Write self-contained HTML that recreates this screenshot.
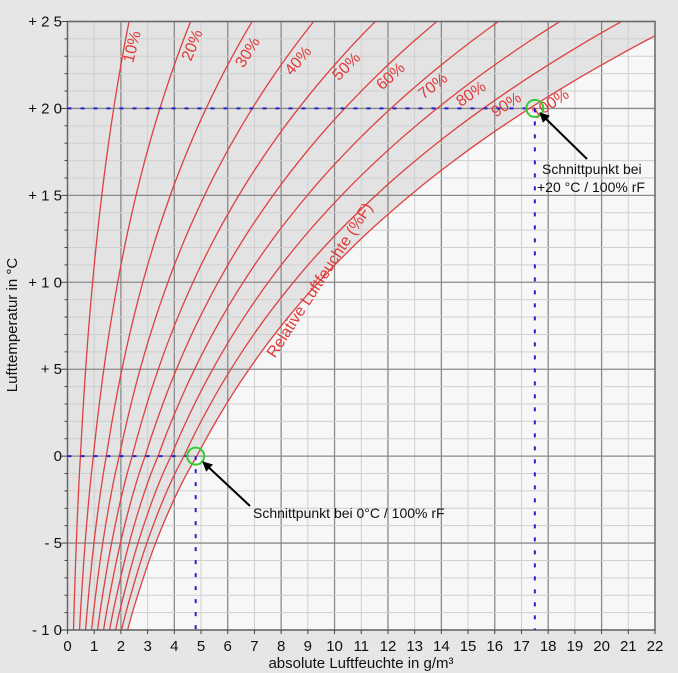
<!DOCTYPE html>
<html><head><meta charset="utf-8"><style>
body{margin:0;background:#e6e6e6;}
svg{display:block;font-family:"Liberation Sans",sans-serif;}
</style></head><body>
<svg id="c" width="678" height="673">
<rect width="678" height="673" fill="#e6e6e6"/>
</svg>
<script>
const temps=[-10,-9,-8,-7,-6,-5,-4,-3,-2,-1,0,1,2,3,4,5,6,7,8,9,10,11,12,13,14,15,16,17,18,19,20,21,22,23,24,25];
const satValues=[2.25,2.43,2.63,2.84,3.06,3.30,3.56,3.84,4.14,4.47,4.84,5.19,5.56,5.95,6.36,6.80,7.26,7.75,8.27,8.82,9.40,10.01,10.66,11.34,12.07,12.83,13.63,14.48,15.37,16.31,17.30,18.34,19.43,20.58,21.78,23.05];
const rhLevels=[10,20,30,40,50,60,70,80,90,100];
const xTicks=[0,1,2,3,4,5,6,7,8,9,10,11,12,13,14,15,16,17,18,19,20,21,22];
const yTicks=[-10,-5,0,5,10,15,20,25];
const yTickLabels=["- 1 0","- 5","0","+ 5","+ 1 0","+ 1 5","+ 2 0","+ 2 5"];
const markers=[{x:4.8,t:0},{x:17.5,t:20}];

const NS="http://www.w3.org/2000/svg";
const svg=document.getElementById('c');
const X0=67.5,X1=655,Y0=630,Y1=21.5;
const sx=v=>X0+(X1-X0)*v/22;
const sy=t=>Y0-(Y0-Y1)*(t+10)/35;
function el(tag,attrs,parent){const e=document.createElementNS(NS,tag);for(const k in attrs)e.setAttribute(k,attrs[k]);(parent||svg).appendChild(e);return e;}
function smooth(pts){let d='M'+pts[0][0]+','+pts[0][1];
 for(let i=0;i<pts.length-1;i++){const p0=pts[Math.max(0,i-1)],p1=pts[i],p2=pts[i+1],p3=pts[Math.min(pts.length-1,i+2)];
  d+=' C'+(p1[0]+(p2[0]-p0[0])/6)+','+(p1[1]+(p2[1]-p0[1])/6)+' '+(p2[0]-(p3[0]-p1[0])/6)+','+(p2[1]-(p3[1]-p1[1])/6)+' '+p2[0]+','+p2[1];}
 return d;}

const defs=el('defs',{});
const cp=el('clipPath',{id:'pc'},defs);
el('rect',{x:X0,y:Y1,width:X1-X0,height:Y0-Y1},cp);
const mk=el('marker',{id:'ah',markerWidth:10,markerHeight:10,refX:9,refY:5,orient:'auto',markerUnits:'userSpaceOnUse'},defs);
el('path',{d:'M0,0 L10,5 L0,10 z',fill:'#000'},mk);

const plotBg=el('rect',{x:X0,y:Y1,width:X1-X0,height:Y0-Y1,fill:'#f7f7f7'});


const satPts=temps.map((t,i)=>[sx(satValues[i]),sy(t)]);
let d=smooth(satPts)+' L'+sx(0)+','+sy(25)+' L'+sx(0)+','+sy(-10)+' Z';
const shade=el('path',{d:d,fill:'#e3e3e3','clip-path':'url(#pc)'});



const grid=el('g',{});


xTicks.forEach(v=>{const dark=v%2===0&&v>0&&v<22;
 el('line',{x1:sx(v),x2:sx(v),y1:Y1,y2:Y0,stroke:dark?'#8a8a8a':'#cfcfcf','stroke-width':dark?1.3:1},grid);});
for(let t=-10;t<=25;t++){const dark=t%5===0;
 el('line',{x1:X0,x2:X1,y1:sy(t),y2:sy(t),stroke:dark?'#8a8a8a':'#cfcfcf','stroke-width':dark?1.3:1},grid);}

const cg=el('g',{'clip-path':'url(#pc)'});
rhLevels.forEach(rh=>{
 const pts=temps.map((t,i)=>[sx(satValues[i]*rh/100),sy(t)]);
 const p=el('path',{d:smooth(pts),fill:'none',stroke:'#dd4040','stroke-width':1.3},cg);
 
 
});

el('rect',{x:X0,y:Y1,width:X1-X0,height:Y0-Y1,fill:'none',stroke:'#666','stroke-width':1.5});
xTicks.forEach(v=>{el('line',{x1:sx(v),x2:sx(v),y1:Y0,y2:Y0+4,stroke:'#444'});
 const tx=el('text',{x:sx(v),y:651,'font-size':15,'text-anchor':'middle',fill:'#111'});tx.textContent=v;
 
 });
for(let t=-10;t<=25;t++){el('line',{x1:X0-(t%5===0?6:3),x2:X0,y1:sy(t),y2:sy(t),stroke:'#444'});}
yTicks.forEach((t,i)=>{const tx=el('text',{x:62,y:sy(t)+5,'font-size':15,'text-anchor':'end',fill:'#111'});tx.textContent=yTickLabels[i];
 
 });

const xt=el('text',{x:361,y:668,'font-size':15,'text-anchor':'middle',fill:'#111'});xt.textContent='absolute Luftfeuchte in g/m³';


const yt=el('text',{x:0,y:0,'font-size':15,'text-anchor':'middle',fill:'#111',transform:'translate(17,325) rotate(-90)'});yt.textContent='Lufttemperatur in °C';



const lab=[[137,48,-76],[197,47,-68],[252,55,-58],[302,64,-50],[350,70,-45],[394,80,-42],[436,90,-38],[474,98,-35],[509,109,-33],[553,108,-33]];
rhLevels.forEach((rh,i)=>{const l=lab[i];
 const tx=el('text',{x:0,y:0,'font-size':16,fill:'#e03a3a','text-anchor':'middle',transform:`translate(${l[0]},${l[1]}) rotate(${l[2]})`});tx.textContent=rh+'%';
 
 });
const rl=el('text',{x:0,y:0,'font-size':16,fill:'#e03a3a','text-anchor':'middle',transform:'translate(324,283) rotate(-57)'});rl.textContent='Relative Luftfeuchte (%F)';



markers.forEach((m,i)=>{
 const g=el('g',{});
 
 
 el('line',{x1:X0,x2:sx(m.x),y1:sy(m.t),y2:sy(m.t),stroke:'#2222cc','stroke-width':2,'stroke-dasharray':'4,9'},g);
 el('line',{x1:sx(m.x),x2:sx(m.x),y1:sy(m.t),y2:Y0,stroke:'#2222cc','stroke-width':2,'stroke-dasharray':'4,9'},g);
 el('circle',{cx:sx(m.x),cy:sy(m.t),r:8.5,fill:'none',stroke:'#33cc33','stroke-width':2},g);
});
el('line',{x1:250,y1:506,x2:203,y2:462,stroke:'#000','stroke-width':2,'marker-end':'url(#ah)'});
el('line',{x1:587,y1:159,x2:540,y2:113,stroke:'#000','stroke-width':2,'marker-end':'url(#ah)'});
function ann(x,y,s,name){const t=el('text',{x:x,y:y,'font-size':14,fill:'#111'});t.textContent=s;
 
 }
ann(253,518,'Schnittpunkt bei 0°C / 100% rF','annotation-0c');
ann(542,174,'Schnittpunkt bei','annotation-20c-line1');
ann(537,192,'+20 °C / 100% rF','annotation-20c-line2');
</script>
</body></html>
